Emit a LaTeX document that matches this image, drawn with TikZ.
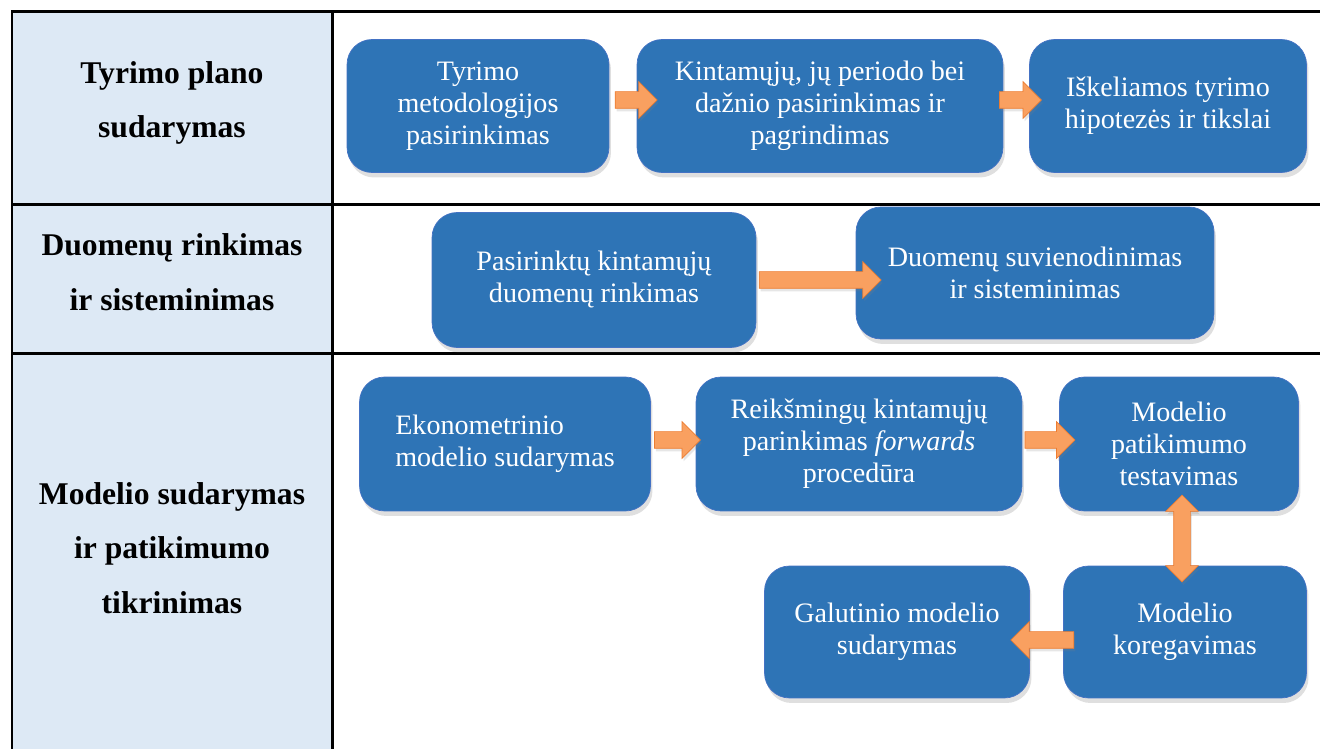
\documentclass[tikz,border=0pt]{standalone}
\usepackage{fontspec}
\setmainfont{Liberation Serif}
\usetikzlibrary{shapes.arrows, shadows, calc}

\definecolor{boxblue}{RGB}{46,116,182}
\definecolor{boxedge}{RGB}{68,114,196}
\definecolor{headfill}{RGB}{221,233,245}
\definecolor{arrowfill}{RGB}{249,160,96}
\definecolor{arrowedge}{RGB}{237,125,49}

\tikzstyle{stage} = [rectangle, rounded corners=0.5cm, draw=boxedge, fill=boxblue, text=white, align=center, font=\fontsize{16}{18.2}\selectfont, drop shadow={shadow xshift=0.04cm, shadow yshift=-0.1cm, opacity=0.25}]
\tikzstyle{heading} = [align=center, font=\fontsize{18}{31}\selectfont\bfseries]
\tikzstyle{fatarrow} = [single arrow, single arrow head extend=0.2cm, minimum width=0.72cm, inner xsep=0pt, inner ysep=0.16cm, draw=arrowedge, fill=arrowfill, drop shadow={shadow xshift=0.03cm, shadow yshift=-0.06cm, opacity=0.2}]
\tikzstyle{twoarrow} = [double arrow, double arrow head extend=0.16cm, minimum width=0.64cm, inner sep=0.16cm, draw=arrowedge, fill=arrowfill, shape border rotate=90, drop shadow={shadow xshift=0.03cm, shadow yshift=-0.06cm, opacity=0.2}]

\begin{document}
\begin{tikzpicture}[x=0.02cm, y=-0.02cm]
\useasboundingbox (0, 0) rectangle (1320, 749);

% table
\fill [headfill] (12, 12) rectangle (332, 749);
\draw [line width=0.06cm] (1320, 12) -- (12, 12) -- (12, 749);
\draw [line width=0.06cm] (332, 12) -- (332, 749);
\draw [line width=0.06cm] (12, 205) -- (1320, 205);
\draw [line width=0.06cm] (12, 354) -- (1320, 354);

\node at (172, 103) (head1) [heading] {Tyrimo plano\\sudarymas};
\node at (172, 272) (head2) [heading] {Duomenų rinkimas\\ir sisteminimas};
\node at (172, 548) (head3) [heading] {Modelio sudarymas\\ir patikimumo\\tikrinimas};

% first row
\node at (478, 106) (method) [stage, minimum width=5.24cm, minimum height=2.66cm] {Tyrimo\\metodologijos\\pasirinkimas};
\node at (820, 106) (vars) [stage, minimum width=7.32cm, minimum height=2.66cm] {Kintamųjų, jų periodo bei\\dažnio pasirinkimas ir\\pagrindimas};
\node at (1168, 106) (hyp) [stage, minimum width=5.54cm, minimum height=2.66cm] {Iškeliamos tyrimo\\hipotezės ir tikslai};

% second row
\node at (594, 280) (collect) [stage, minimum width=6.48cm, minimum height=2.7cm] {Pasirinktų kintamųjų\\duomenų rinkimas};
\node at (1035, 273) (unify) [stage, minimum width=7.16cm, minimum height=2.64cm] {Duomenų suvienodinimas\\ir sisteminimas};

% third row
\node at (505, 444) (econ) [stage, minimum width=5.82cm, minimum height=2.68cm, align=left] {Ekonometrinio\\modelio sudarymas};
\node at (859, 444) (forward) [stage, minimum width=6.52cm, minimum height=2.68cm] {Reikšmingų kintamųjų\\parinkimas \textit{forwards}\\procedūra};
\node at (1179, 444) (test) [stage, minimum width=4.78cm, minimum height=2.68cm] {Modelio\\patikimumo\\testavimas};
\node at (1185, 632) (adjust) [stage, minimum width=4.86cm, minimum height=2.64cm] {Modelio\\koregavimas};
\node at (897, 632) (final) [stage, minimum width=5.3cm, minimum height=2.64cm] {Galutinio modelio\\sudarymas};

% arrows
\path (method.east) -- (vars.west) node [midway, xshift=0.18cm, yshift=0.12cm, fatarrow, minimum height=0.84cm] (a1) {};
\path (vars.east) -- (hyp.west) node [midway, yshift=0.12cm, fatarrow, minimum height=0.84cm] (a2) {};
\path (collect.east) -- (collect.east -| unify.west) node [midway, xshift=0.2cm, fatarrow, minimum height=2.44cm] (a3) {};
\path (econ.east) -- (forward.west) node [midway, yshift=0.08cm, fatarrow, minimum height=0.92cm] (a4) {};
\path (forward.east) -- (test.west) node [midway, xshift=0.1cm, yshift=0.08cm, fatarrow, minimum height=1cm] (a5) {};
\path (adjust.west) -- (final.east) node [midway, yshift=-0.16cm, fatarrow, shape border rotate=180, minimum height=1.26cm] (a6) {};
\path (test.south) -- (adjust.north) node [midway, twoarrow, minimum height=1.74cm] (a7) {};

\end{tikzpicture}
\end{document}
